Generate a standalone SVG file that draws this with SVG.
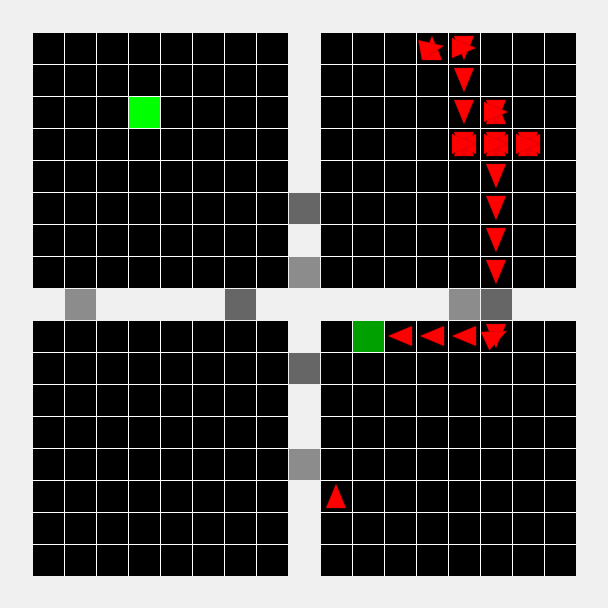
<svg xmlns="http://www.w3.org/2000/svg" width="608" height="608" viewBox="0 0 608 608">
<defs>
<style>
.room{fill:#000}
.grid{stroke:#fff;stroke-width:1;fill:none}
.doorD{fill:#666}
.doorL{fill:#8c8c8c}
.arr{fill:#ff0000;stroke:#b00000;stroke-width:0.4}
</style>
<polygon id="down" points="6,4 26,4 16,28"/>
<polygon id="up" points="6,28 26,28 16,4"/>
<polygon id="left" points="4,16 28,6 28,26"/>
<polygon id="right" points="28,16 4,6 4,26"/>
</defs>
<rect width="608" height="608" fill="#f0f0f0"/>
<g id="room-tl">
<rect class="room" x="33" y="33" width="255" height="255"/>
<path class="grid" d="M64.5 33V288M96.5 33V288M128.5 33V288M160.5 33V288M192.5 33V288M224.5 33V288M256.5 33V288M33 64.5H288M33 96.5H288M33 128.5H288M33 160.5H288M33 192.5H288M33 224.5H288M33 256.5H288"/>
</g>
<g id="room-tr">
<rect class="room" x="321" y="33" width="255" height="255"/>
<path class="grid" d="M352.5 33V288M384.5 33V288M416.5 33V288M448.5 33V288M480.5 33V288M512.5 33V288M544.5 33V288M321 64.5H576M321 96.5H576M321 128.5H576M321 160.5H576M321 192.5H576M321 224.5H576M321 256.5H576"/>
</g>
<g id="room-bl">
<rect class="room" x="33" y="321" width="255" height="255"/>
<path class="grid" d="M64.5 321V576M96.5 321V576M128.5 321V576M160.5 321V576M192.5 321V576M224.5 321V576M256.5 321V576M33 352.5H288M33 384.5H288M33 416.5H288M33 448.5H288M33 480.5H288M33 512.5H288M33 544.5H288"/>
</g>
<g id="room-br">
<rect class="room" x="321" y="321" width="255" height="255"/>
<path class="grid" d="M352.5 321V576M384.5 321V576M416.5 321V576M448.5 321V576M480.5 321V576M512.5 321V576M544.5 321V576M321 352.5H576M321 384.5H576M321 416.5H576M321 448.5H576M321 480.5H576M321 512.5H576M321 544.5H576"/>
</g>
<g id="doors">
<rect class="doorD" x="289" y="193" width="31" height="31"/>
<rect class="doorL" x="289" y="257" width="31" height="31"/>
<rect class="doorL" x="65" y="289" width="31" height="31"/>
<rect class="doorD" x="225" y="289" width="31" height="31"/>
<rect class="doorL" x="449" y="289" width="31" height="31"/>
<rect class="doorD" x="481" y="289" width="31" height="31"/>
<rect class="doorD" x="289" y="353" width="31" height="31"/>
<rect class="doorL" x="289" y="449" width="31" height="31"/>
</g>
<g id="goal"><rect x="129" y="97" width="31" height="31" fill="#00ff00"/></g>
<g id="agent"><rect x="353" y="321" width="31" height="31" fill="#00a000"/></g>
<g id="arrows" class="arr">
<g transform="translate(416,32)"><use href="#up"/><use href="#right" transform="rotate(-10 16 16)"/></g>
<g transform="translate(448,32)"><use href="#down"/><use href="#right"/></g>
<use href="#down" x="448" y="64"/>
<use href="#down" x="448" y="96"/>
<g transform="translate(480,96)"><use href="#up"/><use href="#down"/><use href="#right"/></g>
<g transform="translate(448,128)"><use href="#up"/><use href="#down"/><use href="#left"/><use href="#right"/></g>
<g transform="translate(480,128)"><use href="#up"/><use href="#down"/><use href="#left"/><use href="#right"/></g>
<g transform="translate(512,128)"><use href="#up"/><use href="#down"/><use href="#left"/><use href="#right"/></g>
<use href="#down" x="480" y="160"/>
<use href="#down" x="480" y="192"/>
<use href="#down" x="480" y="224"/>
<use href="#down" x="480" y="256"/>
<use href="#left" x="384" y="320"/>
<use href="#left" x="416" y="320"/>
<use href="#left" x="448" y="320"/>
<g transform="translate(480,320)"><use href="#down"/><use href="#right" transform="rotate(-25 16 16)"/></g>
<use href="#up" x="320" y="480"/>
</g>
</svg>
